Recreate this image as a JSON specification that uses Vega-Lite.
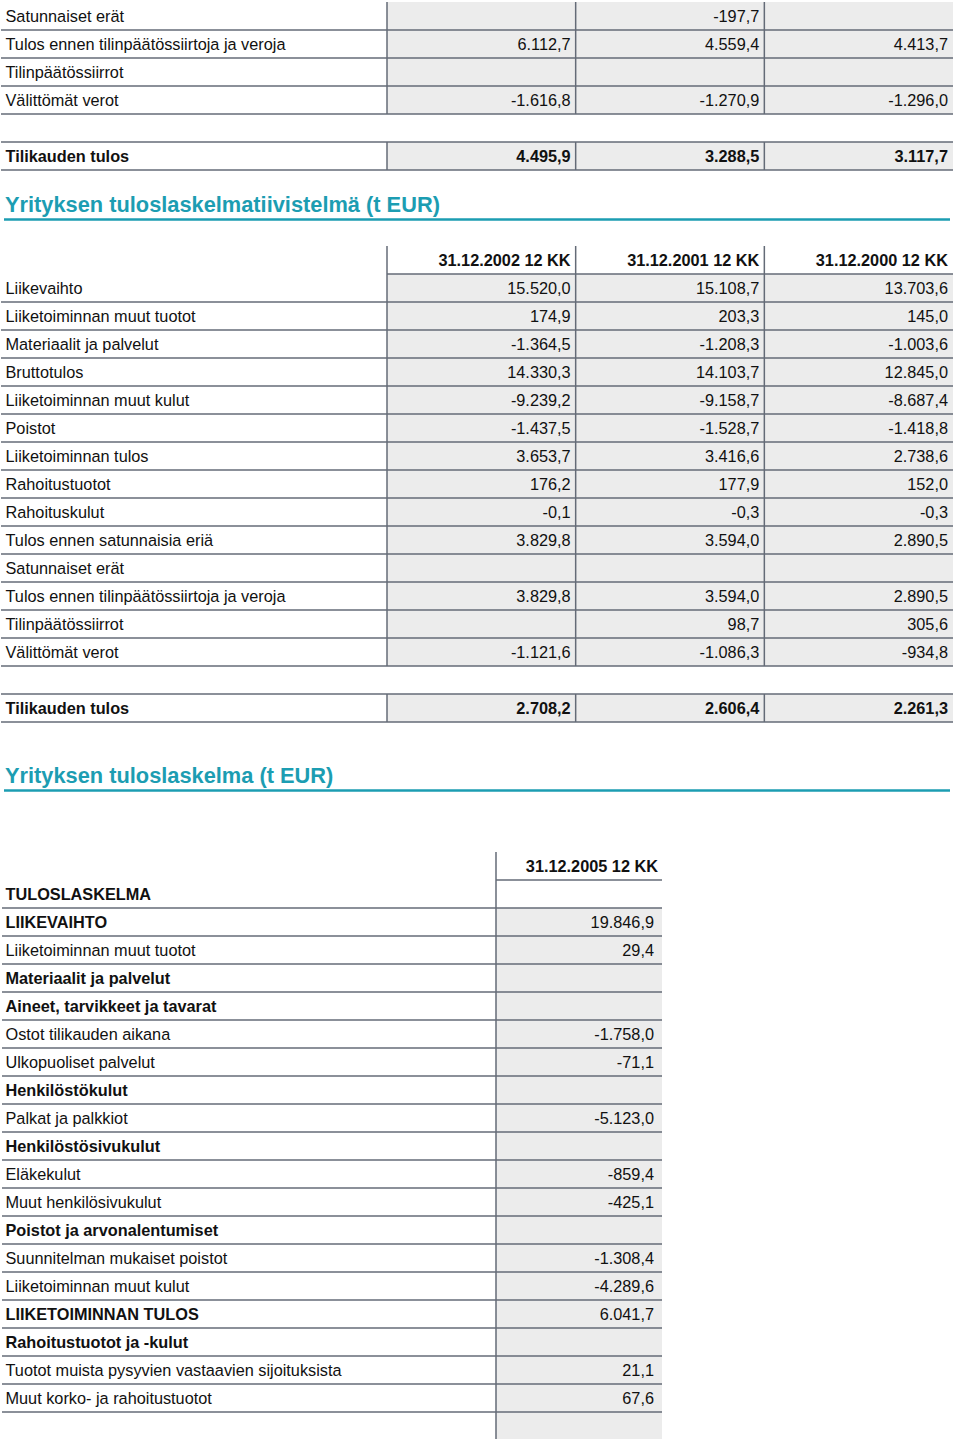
{
  "$schema": "https://vega.github.io/schema/vega-lite/v6.json",
  "width": 960,
  "height": 1439,
  "padding": 0,
  "autosize": {"type": "fit", "contains": "padding"},
  "background": "#ffffff",
  "config": {"view": {"stroke": null}, "axis": {"disable": true}, "text": {"dy": 1}},
  "datasets": {
    "titles": [
      {"order": 1, "text": "Yrityksen tuloslaskelmatiivistelmä (t EUR)"},
      {"order": 2, "text": "Yrityksen tuloslaskelma (t EUR)"}
    ],
    "items": [
      {"sec": "A", "row": 0, "label": "Satunnaiset erät", "kind": "item"},
      {"sec": "A", "row": 1, "label": "Tulos ennen tilinpäätössiirtoja ja veroja", "kind": "item"},
      {"sec": "A", "row": 2, "label": "Tilinpäätössiirrot", "kind": "item"},
      {"sec": "A", "row": 3, "label": "Välittömät verot", "kind": "item"},
      {"sec": "A", "row": 5, "label": "Tilikauden tulos", "kind": "total"},
      {"sec": "B", "row": 1, "label": "Liikevaihto", "kind": "item"},
      {"sec": "B", "row": 2, "label": "Liiketoiminnan muut tuotot", "kind": "item"},
      {"sec": "B", "row": 3, "label": "Materiaalit ja palvelut", "kind": "item"},
      {"sec": "B", "row": 4, "label": "Bruttotulos", "kind": "item"},
      {"sec": "B", "row": 5, "label": "Liiketoiminnan muut kulut", "kind": "item"},
      {"sec": "B", "row": 6, "label": "Poistot", "kind": "item"},
      {"sec": "B", "row": 7, "label": "Liiketoiminnan tulos", "kind": "item"},
      {"sec": "B", "row": 8, "label": "Rahoitustuotot", "kind": "item"},
      {"sec": "B", "row": 9, "label": "Rahoituskulut", "kind": "item"},
      {"sec": "B", "row": 10, "label": "Tulos ennen satunnaisia eriä", "kind": "item"},
      {"sec": "B", "row": 11, "label": "Satunnaiset erät", "kind": "item"},
      {"sec": "B", "row": 12, "label": "Tulos ennen tilinpäätössiirtoja ja veroja", "kind": "item"},
      {"sec": "B", "row": 13, "label": "Tilinpäätössiirrot", "kind": "item"},
      {"sec": "B", "row": 14, "label": "Välittömät verot", "kind": "item"},
      {"sec": "B", "row": 16, "label": "Tilikauden tulos", "kind": "total"},
      {"sec": "C", "row": 1, "label": "TULOSLASKELMA", "kind": "heading"},
      {"sec": "C", "row": 2, "label": "LIIKEVAIHTO", "kind": "group"},
      {"sec": "C", "row": 3, "label": "Liiketoiminnan muut tuotot", "kind": "item"},
      {"sec": "C", "row": 4, "label": "Materiaalit ja palvelut", "kind": "group"},
      {"sec": "C", "row": 5, "label": "Aineet, tarvikkeet ja tavarat", "kind": "group"},
      {"sec": "C", "row": 6, "label": "Ostot tilikauden aikana", "kind": "item"},
      {"sec": "C", "row": 7, "label": "Ulkopuoliset palvelut", "kind": "item"},
      {"sec": "C", "row": 8, "label": "Henkilöstökulut", "kind": "group"},
      {"sec": "C", "row": 9, "label": "Palkat ja palkkiot", "kind": "item"},
      {"sec": "C", "row": 10, "label": "Henkilöstösivukulut", "kind": "group"},
      {"sec": "C", "row": 11, "label": "Eläkekulut", "kind": "item"},
      {"sec": "C", "row": 12, "label": "Muut henkilösivukulut", "kind": "item"},
      {"sec": "C", "row": 13, "label": "Poistot ja arvonalentumiset", "kind": "group"},
      {"sec": "C", "row": 14, "label": "Suunnitelman mukaiset poistot", "kind": "item"},
      {"sec": "C", "row": 15, "label": "Liiketoiminnan muut kulut", "kind": "item"},
      {"sec": "C", "row": 16, "label": "LIIKETOIMINNAN TULOS", "kind": "group"},
      {"sec": "C", "row": 17, "label": "Rahoitustuotot ja -kulut", "kind": "group"},
      {"sec": "C", "row": 18, "label": "Tuotot muista pysyvien vastaavien sijoituksista", "kind": "item"},
      {"sec": "C", "row": 19, "label": "Muut korko- ja rahoitustuotot", "kind": "item"},
      {"sec": "C", "row": 20, "label": "", "kind": "blank"}
    ],
    "cells": [
      {"sec": "A", "row": 0, "col": 1, "value": "", "kind": "value"},
      {"sec": "A", "row": 0, "col": 2, "value": "-197,7", "kind": "value"},
      {"sec": "A", "row": 0, "col": 3, "value": "", "kind": "value"},
      {"sec": "A", "row": 1, "col": 1, "value": "6.112,7", "kind": "value"},
      {"sec": "A", "row": 1, "col": 2, "value": "4.559,4", "kind": "value"},
      {"sec": "A", "row": 1, "col": 3, "value": "4.413,7", "kind": "value"},
      {"sec": "A", "row": 2, "col": 1, "value": "", "kind": "value"},
      {"sec": "A", "row": 2, "col": 2, "value": "", "kind": "value"},
      {"sec": "A", "row": 2, "col": 3, "value": "", "kind": "value"},
      {"sec": "A", "row": 3, "col": 1, "value": "-1.616,8", "kind": "value"},
      {"sec": "A", "row": 3, "col": 2, "value": "-1.270,9", "kind": "value"},
      {"sec": "A", "row": 3, "col": 3, "value": "-1.296,0", "kind": "value"},
      {"sec": "A", "row": 5, "col": 1, "value": "4.495,9", "kind": "total"},
      {"sec": "A", "row": 5, "col": 2, "value": "3.288,5", "kind": "total"},
      {"sec": "A", "row": 5, "col": 3, "value": "3.117,7", "kind": "total"},
      {"sec": "B", "row": 0, "col": 1, "value": "31.12.2002 12 KK", "kind": "header"},
      {"sec": "B", "row": 0, "col": 2, "value": "31.12.2001 12 KK", "kind": "header"},
      {"sec": "B", "row": 0, "col": 3, "value": "31.12.2000 12 KK", "kind": "header"},
      {"sec": "B", "row": 1, "col": 1, "value": "15.520,0", "kind": "value"},
      {"sec": "B", "row": 1, "col": 2, "value": "15.108,7", "kind": "value"},
      {"sec": "B", "row": 1, "col": 3, "value": "13.703,6", "kind": "value"},
      {"sec": "B", "row": 2, "col": 1, "value": "174,9", "kind": "value"},
      {"sec": "B", "row": 2, "col": 2, "value": "203,3", "kind": "value"},
      {"sec": "B", "row": 2, "col": 3, "value": "145,0", "kind": "value"},
      {"sec": "B", "row": 3, "col": 1, "value": "-1.364,5", "kind": "value"},
      {"sec": "B", "row": 3, "col": 2, "value": "-1.208,3", "kind": "value"},
      {"sec": "B", "row": 3, "col": 3, "value": "-1.003,6", "kind": "value"},
      {"sec": "B", "row": 4, "col": 1, "value": "14.330,3", "kind": "value"},
      {"sec": "B", "row": 4, "col": 2, "value": "14.103,7", "kind": "value"},
      {"sec": "B", "row": 4, "col": 3, "value": "12.845,0", "kind": "value"},
      {"sec": "B", "row": 5, "col": 1, "value": "-9.239,2", "kind": "value"},
      {"sec": "B", "row": 5, "col": 2, "value": "-9.158,7", "kind": "value"},
      {"sec": "B", "row": 5, "col": 3, "value": "-8.687,4", "kind": "value"},
      {"sec": "B", "row": 6, "col": 1, "value": "-1.437,5", "kind": "value"},
      {"sec": "B", "row": 6, "col": 2, "value": "-1.528,7", "kind": "value"},
      {"sec": "B", "row": 6, "col": 3, "value": "-1.418,8", "kind": "value"},
      {"sec": "B", "row": 7, "col": 1, "value": "3.653,7", "kind": "value"},
      {"sec": "B", "row": 7, "col": 2, "value": "3.416,6", "kind": "value"},
      {"sec": "B", "row": 7, "col": 3, "value": "2.738,6", "kind": "value"},
      {"sec": "B", "row": 8, "col": 1, "value": "176,2", "kind": "value"},
      {"sec": "B", "row": 8, "col": 2, "value": "177,9", "kind": "value"},
      {"sec": "B", "row": 8, "col": 3, "value": "152,0", "kind": "value"},
      {"sec": "B", "row": 9, "col": 1, "value": "-0,1", "kind": "value"},
      {"sec": "B", "row": 9, "col": 2, "value": "-0,3", "kind": "value"},
      {"sec": "B", "row": 9, "col": 3, "value": "-0,3", "kind": "value"},
      {"sec": "B", "row": 10, "col": 1, "value": "3.829,8", "kind": "value"},
      {"sec": "B", "row": 10, "col": 2, "value": "3.594,0", "kind": "value"},
      {"sec": "B", "row": 10, "col": 3, "value": "2.890,5", "kind": "value"},
      {"sec": "B", "row": 11, "col": 1, "value": "", "kind": "value"},
      {"sec": "B", "row": 11, "col": 2, "value": "", "kind": "value"},
      {"sec": "B", "row": 11, "col": 3, "value": "", "kind": "value"},
      {"sec": "B", "row": 12, "col": 1, "value": "3.829,8", "kind": "value"},
      {"sec": "B", "row": 12, "col": 2, "value": "3.594,0", "kind": "value"},
      {"sec": "B", "row": 12, "col": 3, "value": "2.890,5", "kind": "value"},
      {"sec": "B", "row": 13, "col": 1, "value": "", "kind": "value"},
      {"sec": "B", "row": 13, "col": 2, "value": "98,7", "kind": "value"},
      {"sec": "B", "row": 13, "col": 3, "value": "305,6", "kind": "value"},
      {"sec": "B", "row": 14, "col": 1, "value": "-1.121,6", "kind": "value"},
      {"sec": "B", "row": 14, "col": 2, "value": "-1.086,3", "kind": "value"},
      {"sec": "B", "row": 14, "col": 3, "value": "-934,8", "kind": "value"},
      {"sec": "B", "row": 16, "col": 1, "value": "2.708,2", "kind": "total"},
      {"sec": "B", "row": 16, "col": 2, "value": "2.606,4", "kind": "total"},
      {"sec": "B", "row": 16, "col": 3, "value": "2.261,3", "kind": "total"},
      {"sec": "C", "row": 0, "col": 1, "value": "31.12.2005 12 KK", "kind": "header"},
      {"sec": "C", "row": 1, "col": 1, "value": "", "kind": "heading"},
      {"sec": "C", "row": 2, "col": 1, "value": "19.846,9", "kind": "value"},
      {"sec": "C", "row": 3, "col": 1, "value": "29,4", "kind": "value"},
      {"sec": "C", "row": 4, "col": 1, "value": "", "kind": "value"},
      {"sec": "C", "row": 5, "col": 1, "value": "", "kind": "value"},
      {"sec": "C", "row": 6, "col": 1, "value": "-1.758,0", "kind": "value"},
      {"sec": "C", "row": 7, "col": 1, "value": "-71,1", "kind": "value"},
      {"sec": "C", "row": 8, "col": 1, "value": "", "kind": "value"},
      {"sec": "C", "row": 9, "col": 1, "value": "-5.123,0", "kind": "value"},
      {"sec": "C", "row": 10, "col": 1, "value": "", "kind": "value"},
      {"sec": "C", "row": 11, "col": 1, "value": "-859,4", "kind": "value"},
      {"sec": "C", "row": 12, "col": 1, "value": "-425,1", "kind": "value"},
      {"sec": "C", "row": 13, "col": 1, "value": "", "kind": "value"},
      {"sec": "C", "row": 14, "col": 1, "value": "-1.308,4", "kind": "value"},
      {"sec": "C", "row": 15, "col": 1, "value": "-4.289,6", "kind": "value"},
      {"sec": "C", "row": 16, "col": 1, "value": "6.041,7", "kind": "value"},
      {"sec": "C", "row": 17, "col": 1, "value": "", "kind": "value"},
      {"sec": "C", "row": 18, "col": 1, "value": "21,1", "kind": "value"},
      {"sec": "C", "row": 19, "col": 1, "value": "67,6", "kind": "value"},
      {"sec": "C", "row": 20, "col": 1, "value": "", "kind": "value"}
    ]
  },
  "resolve": {"scale": {"x": "independent", "y": "independent"}},
  "layer": [
    {
      "layer": [
        {"data": {"name": "cells"}, "transform": [{"filter": "datum.sec === 'A' && (datum.kind === 'value' || datum.kind === 'total')"}],
         "mark": {"type": "rect", "color": "#ececec", "xOffset": -94.33, "x2Offset": 94.33, "yOffset": -14, "y2Offset": 14},
         "encoding": {"x": {"field": "col", "type": "quantitative", "scale": {"domain": [-1.55124, 3.5371], "nice": false, "zero": false}}, "x2": {"field": "col"}, "y": {"field": "row", "type": "quantitative", "scale": {"domain": [-0.57143, 50.82143], "reverse": true, "nice": false, "zero": false}}, "y2": {"field": "row"}}},
        {"data": {"name": "cells"}, "transform": [{"filter": "datum.sec === 'A'"}],
         "mark": {"type": "rule", "color": "#646b77", "strokeWidth": 1.5, "xOffset": -94.33, "yOffset": -14, "y2Offset": 14},
         "encoding": {"x": {"field": "col", "type": "quantitative", "scale": {"domain": [-1.55124, 3.5371], "nice": false, "zero": false}}, "y": {"field": "row", "type": "quantitative", "scale": {"domain": [-0.57143, 50.82143], "reverse": true, "nice": false, "zero": false}}, "y2": {"field": "row"}}},
        {"data": {"name": "items"}, "transform": [{"filter": "datum.sec === 'A' && datum.kind !== 'blank'"}],
         "mark": {"type": "rule", "color": "#646b77", "strokeWidth": 1.5, "yOffset": 14},
         "encoding": {"x": {"datum": -1.54594, "type": "quantitative", "scale": {"domain": [-1.55124, 3.5371], "nice": false, "zero": false}}, "x2": {"datum": 3.5}, "y": {"field": "row", "type": "quantitative", "scale": {"domain": [-0.57143, 50.82143], "reverse": true, "nice": false, "zero": false}}}},
        {"data": {"name": "items"}, "transform": [{"filter": "datum.sec === 'A' && datum.kind === 'total'"}],
         "mark": {"type": "rule", "color": "#646b77", "strokeWidth": 1.5, "yOffset": -14},
         "encoding": {"x": {"datum": -1.54594, "type": "quantitative", "scale": {"domain": [-1.55124, 3.5371], "nice": false, "zero": false}}, "x2": {"datum": 3.5}, "y": {"field": "row", "type": "quantitative", "scale": {"domain": [-0.57143, 50.82143], "reverse": true, "nice": false, "zero": false}}}},
        {"data": {"name": "items"}, "transform": [{"filter": "datum.sec === 'A' && datum.kind === 'item'"}],
         "mark": {"type": "text", "align": "left", "baseline": "middle", "font": "Liberation Sans", "fontSize": 16.3, "color": "#111111"},
         "encoding": {"x": {"datum": -1.52208, "type": "quantitative", "scale": {"domain": [-1.55124, 3.5371], "nice": false, "zero": false}}, "y": {"field": "row", "type": "quantitative", "scale": {"domain": [-0.57143, 50.82143], "reverse": true, "nice": false, "zero": false}}, "text": {"field": "label"}}},
        {"data": {"name": "items"}, "transform": [{"filter": "datum.sec === 'A' && datum.kind !== 'item' && datum.kind !== 'blank'"}],
         "mark": {"type": "text", "align": "left", "baseline": "middle", "font": "Liberation Sans", "fontSize": 16.3, "fontWeight": "bold", "color": "#111111"},
         "encoding": {"x": {"datum": -1.52208, "type": "quantitative", "scale": {"domain": [-1.55124, 3.5371], "nice": false, "zero": false}}, "y": {"field": "row", "type": "quantitative", "scale": {"domain": [-0.57143, 50.82143], "reverse": true, "nice": false, "zero": false}}, "text": {"field": "label"}}},
        {"data": {"name": "cells"}, "transform": [{"filter": "datum.sec === 'A' && datum.kind === 'value'"}],
         "mark": {"type": "text", "align": "right", "baseline": "middle", "font": "Liberation Sans", "fontSize": 16.3, "color": "#111111", "xOffset": 89.3},
         "encoding": {"x": {"field": "col", "type": "quantitative", "scale": {"domain": [-1.55124, 3.5371], "nice": false, "zero": false}}, "y": {"field": "row", "type": "quantitative", "scale": {"domain": [-0.57143, 50.82143], "reverse": true, "nice": false, "zero": false}}, "text": {"field": "value"}}},
        {"data": {"name": "cells"}, "transform": [{"filter": "datum.sec === 'A' && (datum.kind === 'total' || datum.kind === 'header')"}],
         "mark": {"type": "text", "align": "right", "baseline": "middle", "font": "Liberation Sans", "fontSize": 16.3, "fontWeight": "bold", "color": "#111111", "xOffset": 89.3},
         "encoding": {"x": {"field": "col", "type": "quantitative", "scale": {"domain": [-1.55124, 3.5371], "nice": false, "zero": false}}, "y": {"field": "row", "type": "quantitative", "scale": {"domain": [-0.57143, 50.82143], "reverse": true, "nice": false, "zero": false}}, "text": {"field": "value"}}}
      ]
    },
    {
      "layer": [
        {"data": {"name": "cells"}, "transform": [{"filter": "datum.sec === 'B' && (datum.kind === 'value' || datum.kind === 'total')"}],
         "mark": {"type": "rect", "color": "#ececec", "xOffset": -94.33, "x2Offset": 94.33, "yOffset": -14, "y2Offset": 14},
         "encoding": {"x": {"field": "col", "type": "quantitative", "scale": {"domain": [-1.55124, 3.5371], "nice": false, "zero": false}}, "x2": {"field": "col"}, "y": {"field": "row", "type": "quantitative", "scale": {"domain": [-9.28571, 42.10714], "reverse": true, "nice": false, "zero": false}}, "y2": {"field": "row"}}},
        {"data": {"name": "cells"}, "transform": [{"filter": "datum.sec === 'B'"}],
         "mark": {"type": "rule", "color": "#646b77", "strokeWidth": 1.5, "xOffset": -94.33, "yOffset": -14, "y2Offset": 14},
         "encoding": {"x": {"field": "col", "type": "quantitative", "scale": {"domain": [-1.55124, 3.5371], "nice": false, "zero": false}}, "y": {"field": "row", "type": "quantitative", "scale": {"domain": [-9.28571, 42.10714], "reverse": true, "nice": false, "zero": false}}, "y2": {"field": "row"}}},
        {"data": {"name": "cells"}, "transform": [{"filter": "datum.sec === 'B' && datum.kind === 'header'"}],
         "mark": {"type": "rule", "color": "#646b77", "strokeWidth": 1.5, "xOffset": -94.33, "x2Offset": 94.33, "yOffset": 14},
         "encoding": {"x": {"field": "col", "type": "quantitative", "scale": {"domain": [-1.55124, 3.5371], "nice": false, "zero": false}}, "x2": {"field": "col"}, "y": {"field": "row", "type": "quantitative", "scale": {"domain": [-9.28571, 42.10714], "reverse": true, "nice": false, "zero": false}}}},
        {"data": {"name": "items"}, "transform": [{"filter": "datum.sec === 'B' && datum.kind !== 'blank'"}],
         "mark": {"type": "rule", "color": "#646b77", "strokeWidth": 1.5, "yOffset": 14},
         "encoding": {"x": {"datum": -1.54594, "type": "quantitative", "scale": {"domain": [-1.55124, 3.5371], "nice": false, "zero": false}}, "x2": {"datum": 3.5}, "y": {"field": "row", "type": "quantitative", "scale": {"domain": [-9.28571, 42.10714], "reverse": true, "nice": false, "zero": false}}}},
        {"data": {"name": "items"}, "transform": [{"filter": "datum.sec === 'B' && datum.kind === 'total'"}],
         "mark": {"type": "rule", "color": "#646b77", "strokeWidth": 1.5, "yOffset": -14},
         "encoding": {"x": {"datum": -1.54594, "type": "quantitative", "scale": {"domain": [-1.55124, 3.5371], "nice": false, "zero": false}}, "x2": {"datum": 3.5}, "y": {"field": "row", "type": "quantitative", "scale": {"domain": [-9.28571, 42.10714], "reverse": true, "nice": false, "zero": false}}}},
        {"data": {"name": "items"}, "transform": [{"filter": "datum.sec === 'B' && datum.kind === 'item'"}],
         "mark": {"type": "text", "align": "left", "baseline": "middle", "font": "Liberation Sans", "fontSize": 16.3, "color": "#111111"},
         "encoding": {"x": {"datum": -1.52208, "type": "quantitative", "scale": {"domain": [-1.55124, 3.5371], "nice": false, "zero": false}}, "y": {"field": "row", "type": "quantitative", "scale": {"domain": [-9.28571, 42.10714], "reverse": true, "nice": false, "zero": false}}, "text": {"field": "label"}}},
        {"data": {"name": "items"}, "transform": [{"filter": "datum.sec === 'B' && datum.kind !== 'item' && datum.kind !== 'blank'"}],
         "mark": {"type": "text", "align": "left", "baseline": "middle", "font": "Liberation Sans", "fontSize": 16.3, "fontWeight": "bold", "color": "#111111"},
         "encoding": {"x": {"datum": -1.52208, "type": "quantitative", "scale": {"domain": [-1.55124, 3.5371], "nice": false, "zero": false}}, "y": {"field": "row", "type": "quantitative", "scale": {"domain": [-9.28571, 42.10714], "reverse": true, "nice": false, "zero": false}}, "text": {"field": "label"}}},
        {"data": {"name": "cells"}, "transform": [{"filter": "datum.sec === 'B' && datum.kind === 'value'"}],
         "mark": {"type": "text", "align": "right", "baseline": "middle", "font": "Liberation Sans", "fontSize": 16.3, "color": "#111111", "xOffset": 89.3},
         "encoding": {"x": {"field": "col", "type": "quantitative", "scale": {"domain": [-1.55124, 3.5371], "nice": false, "zero": false}}, "y": {"field": "row", "type": "quantitative", "scale": {"domain": [-9.28571, 42.10714], "reverse": true, "nice": false, "zero": false}}, "text": {"field": "value"}}},
        {"data": {"name": "cells"}, "transform": [{"filter": "datum.sec === 'B' && (datum.kind === 'total' || datum.kind === 'header')"}],
         "mark": {"type": "text", "align": "right", "baseline": "middle", "font": "Liberation Sans", "fontSize": 16.3, "fontWeight": "bold", "color": "#111111", "xOffset": 89.3},
         "encoding": {"x": {"field": "col", "type": "quantitative", "scale": {"domain": [-1.55124, 3.5371], "nice": false, "zero": false}}, "y": {"field": "row", "type": "quantitative", "scale": {"domain": [-9.28571, 42.10714], "reverse": true, "nice": false, "zero": false}}, "text": {"field": "value"}}}
      ]
    },
    {
      "layer": [
        {"data": {"name": "cells"}, "transform": [{"filter": "datum.sec === 'C' && datum.kind === 'value'"}],
         "mark": {"type": "rect", "color": "#ececec", "clip": true, "xOffset": -83, "x2Offset": 83, "yOffset": -14, "y2Offset": 14},
         "encoding": {"x": {"field": "col", "type": "quantitative", "scale": {"domain": [-2.48795, 3.29518], "nice": false, "zero": false}}, "x2": {"field": "col"}, "y": {"field": "row", "type": "quantitative", "scale": {"domain": [-30.92857, 20.46429], "reverse": true, "nice": false, "zero": false}}, "y2": {"field": "row"}}},
        {"data": {"name": "cells"}, "transform": [{"filter": "datum.sec === 'C'"}],
         "mark": {"type": "rule", "color": "#646b77", "strokeWidth": 1.5, "clip": true, "xOffset": -83, "yOffset": -14, "y2Offset": 14},
         "encoding": {"x": {"field": "col", "type": "quantitative", "scale": {"domain": [-2.48795, 3.29518], "nice": false, "zero": false}}, "y": {"field": "row", "type": "quantitative", "scale": {"domain": [-30.92857, 20.46429], "reverse": true, "nice": false, "zero": false}}, "y2": {"field": "row"}}},
        {"data": {"name": "cells"}, "transform": [{"filter": "datum.sec === 'C' && datum.kind === 'header'"}],
         "mark": {"type": "rule", "color": "#646b77", "strokeWidth": 1.5, "xOffset": -83, "x2Offset": 83, "yOffset": 14},
         "encoding": {"x": {"field": "col", "type": "quantitative", "scale": {"domain": [-2.48795, 3.29518], "nice": false, "zero": false}}, "x2": {"field": "col"}, "y": {"field": "row", "type": "quantitative", "scale": {"domain": [-30.92857, 20.46429], "reverse": true, "nice": false, "zero": false}}}},
        {"data": {"name": "items"}, "transform": [{"filter": "datum.sec === 'C' && datum.kind !== 'blank'"}],
         "mark": {"type": "rule", "color": "#646b77", "strokeWidth": 1.5, "yOffset": 14},
         "encoding": {"x": {"datum": -2.4759, "type": "quantitative", "scale": {"domain": [-2.48795, 3.29518], "nice": false, "zero": false}}, "x2": {"datum": 1.5}, "y": {"field": "row", "type": "quantitative", "scale": {"domain": [-30.92857, 20.46429], "reverse": true, "nice": false, "zero": false}}}},
        {"data": {"name": "items"}, "transform": [{"filter": "datum.sec === 'C' && datum.kind === 'item'"}],
         "mark": {"type": "text", "align": "left", "baseline": "middle", "font": "Liberation Sans", "fontSize": 16.3, "color": "#111111"},
         "encoding": {"x": {"datum": -2.45482, "type": "quantitative", "scale": {"domain": [-2.48795, 3.29518], "nice": false, "zero": false}}, "y": {"field": "row", "type": "quantitative", "scale": {"domain": [-30.92857, 20.46429], "reverse": true, "nice": false, "zero": false}}, "text": {"field": "label"}}},
        {"data": {"name": "items"}, "transform": [{"filter": "datum.sec === 'C' && datum.kind !== 'item' && datum.kind !== 'blank'"}],
         "mark": {"type": "text", "align": "left", "baseline": "middle", "font": "Liberation Sans", "fontSize": 16.3, "fontWeight": "bold", "color": "#111111"},
         "encoding": {"x": {"datum": -2.45482, "type": "quantitative", "scale": {"domain": [-2.48795, 3.29518], "nice": false, "zero": false}}, "y": {"field": "row", "type": "quantitative", "scale": {"domain": [-30.92857, 20.46429], "reverse": true, "nice": false, "zero": false}}, "text": {"field": "label"}}},
        {"data": {"name": "cells"}, "transform": [{"filter": "datum.sec === 'C' && datum.kind === 'value'"}],
         "mark": {"type": "text", "align": "right", "baseline": "middle", "font": "Liberation Sans", "fontSize": 16.3, "color": "#111111", "xOffset": 75},
         "encoding": {"x": {"field": "col", "type": "quantitative", "scale": {"domain": [-2.48795, 3.29518], "nice": false, "zero": false}}, "y": {"field": "row", "type": "quantitative", "scale": {"domain": [-30.92857, 20.46429], "reverse": true, "nice": false, "zero": false}}, "text": {"field": "value"}}},
        {"data": {"name": "cells"}, "transform": [{"filter": "datum.sec === 'C' && datum.kind === 'header'"}],
         "mark": {"type": "text", "align": "right", "baseline": "middle", "font": "Liberation Sans", "fontSize": 16.3, "fontWeight": "bold", "color": "#111111", "xOffset": 79},
         "encoding": {"x": {"field": "col", "type": "quantitative", "scale": {"domain": [-2.48795, 3.29518], "nice": false, "zero": false}}, "y": {"field": "row", "type": "quantitative", "scale": {"domain": [-30.92857, 20.46429], "reverse": true, "nice": false, "zero": false}}, "text": {"field": "value"}}}
      ]
    },
    {
      "layer": [
        {"data": {"name": "titles"},
         "mark": {"type": "rule", "color": "#1c9db2", "strokeWidth": 2.5, "yOffset": 15.5},
         "encoding": {"x": {"datum": 4, "type": "quantitative", "scale": {"domain": [0, 960], "nice": false, "zero": false}}, "x2": {"datum": 950}, "y": {"field": "order", "type": "quantitative", "scale": {"domain": [0.642732, 3.162872], "reverse": true, "nice": false, "zero": false}}}},
        {"data": {"name": "titles"},
         "mark": {"type": "text", "align": "left", "baseline": "middle", "font": "Liberation Sans", "fontSize": 21.8, "fontWeight": "bold", "color": "#1c9db2"},
         "encoding": {"x": {"datum": 5, "type": "quantitative", "scale": {"domain": [0, 960], "nice": false, "zero": false}}, "y": {"field": "order", "type": "quantitative", "scale": {"domain": [0.642732, 3.162872], "reverse": true, "nice": false, "zero": false}}, "text": {"field": "text"}}}
      ]
    }
  ]
}
